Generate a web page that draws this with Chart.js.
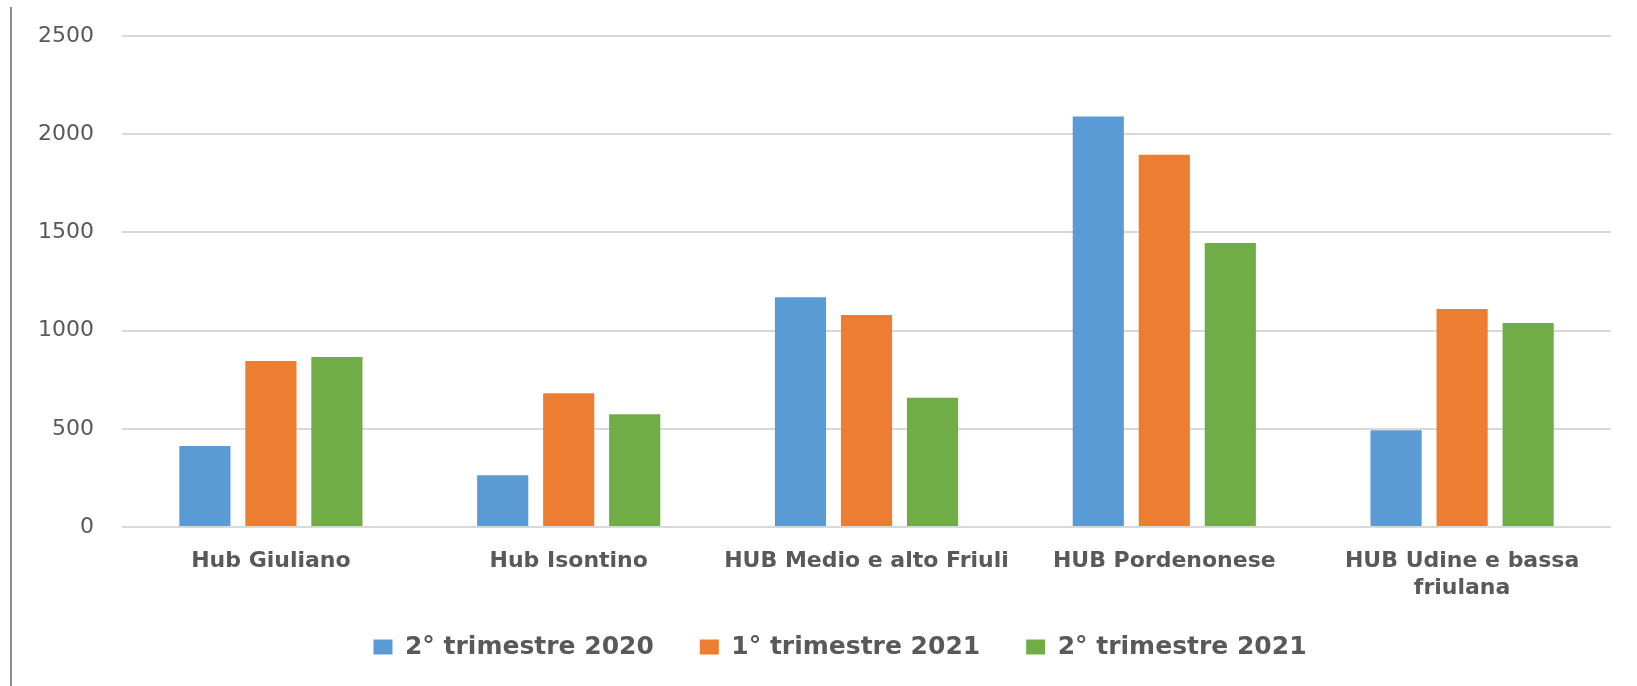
<!DOCTYPE html>
<html>
<head>
<meta charset="utf-8">
<script src="https://cdn.jsdelivr.net/npm/chart.js@4.4.1/dist/chart.umd.min.js"></script>
<style>
  html, body { margin: 0; padding: 0; background: #fff; }
  #wrap { width: 1637px; height: 686px; }
</style>
</head>
<body>
<div id="wrap"><canvas id="hubChart" width="1637" height="686"></canvas></div>
<script>
// --- dati ---
const categories = [
    'Hub Giuliano',
    'Hub Isontino',
    'HUB Medio e alto Friuli',
    'HUB Pordenonese',
    ['HUB Udine e bassa', 'friulana']
];
const seriesNames = ['2° trimestre 2020', '1° trimestre 2021', '2° trimestre 2021'];
const trim2_2020 = [412, 263, 1170, 2090, 493];
const trim1_2021 = [845, 681, 1080, 1895, 1110];
const trim2_2021 = [866, 574, 658, 1446, 1039];
const yTicks = [0, 500, 1000, 1500, 2000, 2500];

const colors = ['#5B9BD5', '#ED7D31', '#70AD47'];
const textGray = '#595959';

// bordo sinistro dell'immagine originale + sfondo bianco
const leftBorder = {
    id: 'leftBorder',
    beforeDraw(chart) {
        const ctx = chart.ctx;
        ctx.save();
        ctx.fillStyle = '#fff';
        ctx.fillRect(0, 0, chart.width, chart.height);
        ctx.strokeStyle = '#8c8c8c';
        ctx.lineWidth = 2;
        ctx.beginPath();
        ctx.moveTo(11, 7);
        ctx.lineTo(11, chart.height);
        ctx.stroke();
        ctx.restore();
    }
};

// allarga l'area di ritaglio delle etichette degli assi (le scale restano dove sono)
const labelRoom = {
    id: 'labelRoom',
    afterLayout(chart) {
        chart.scales.y.left = 0;
        chart.scales.x.bottom = chart.height;
    }
};

const series = [trim2_2020, trim1_2021, trim2_2021];

new Chart(document.getElementById('hubChart'), {
    type: 'bar',
    data: {
        labels: categories,
        datasets: series.map((vals, i) => ({
            label: seriesNames[i],
            data: vals,
            backgroundColor: colors[i],
            borderWidth: 0,
            categoryPercentage: 0.665,
            barPercentage: 0.775
        }))
    },
    options: {
        responsive: false,
        animation: false,
        layout: { padding: { top: 36, right: 26, bottom: 16.5, left: 69 } },
        plugins: {
            tooltip: { enabled: false },
            legend: {
                position: 'bottom',
                labels: {
                    color: textGray,
                    font: { family: 'DejaVu Sans', size: 25, weight: 'bold' },
                    boxWidth: 19,
                    boxHeight: 15,
                    padding: 46
                }
            }
        },
        scales: {
            x: {
                grid: { display: false },
                border: { display: false },
                ticks: {
                    color: textGray,
                    font: { family: 'DejaVu Sans', size: 22, weight: 'bold', lineHeight: 1.227 },
                    padding: 12.5,
                    maxRotation: 0,
                    autoSkip: false
                },
                afterFit(scale) { scale.height = 61.5; }
            },
            y: {
                min: 0,
                max: 2500,
                afterBuildTicks(scale) { scale.ticks = yTicks.map(v => ({ value: v })); },
                grid: { color: '#D9D9D9', lineWidth: 2, drawTicks: false },
                border: { display: false },
                ticks: {
                    color: textGray,
                    // lineHeight basso: la riga singola non si sposta, ma non spinge giù l'area del grafico
                    font: { family: 'DejaVu Sans', size: 22, lineHeight: 0.6 },
                    padding: 28,
                    callback: (v) => String(v)
                },
                afterFit(scale) { scale.width = 53; }
            }
        }
    },
    plugins: [leftBorder, labelRoom]
});
</script>
</body>
</html>
